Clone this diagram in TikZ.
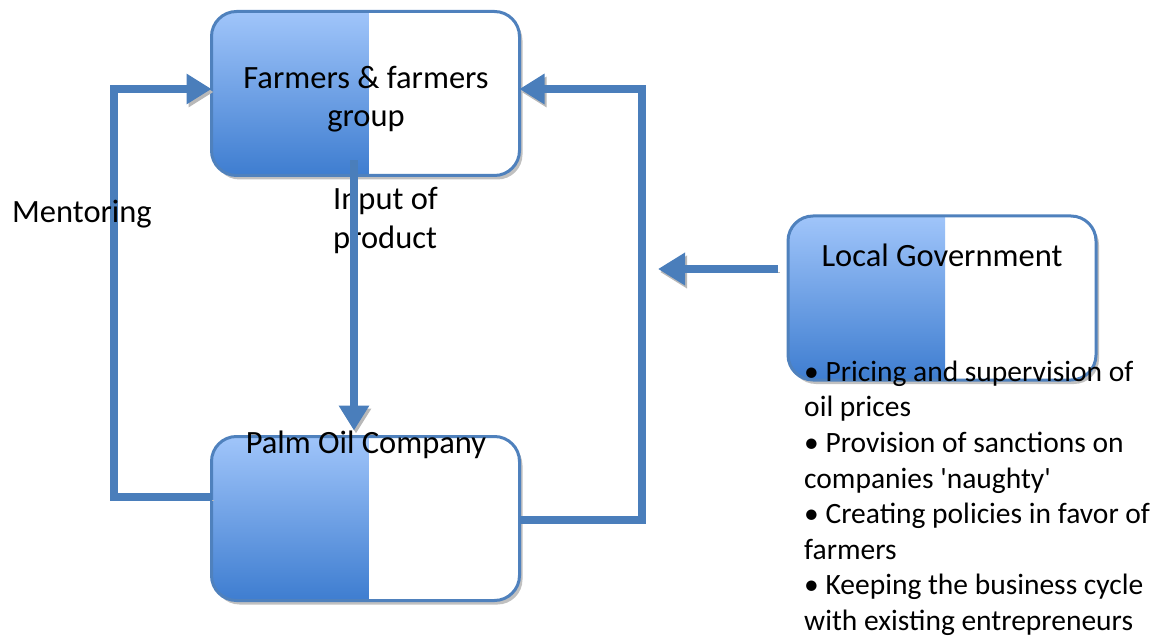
\documentclass[tikz,border=0pt]{standalone}
\usepackage{fontspec}
\setmainfont{Carlito}
\usetikzlibrary{arrows.meta,shadows,calc}
\definecolor{edgeblue}{RGB}{79,129,189}
\definecolor{lineblue}{RGB}{74,126,187}
\definecolor{shadetop}{RGB}{160,197,250}
\definecolor{shadebot}{RGB}{62,125,208}
\begin{document}
\begin{tikzpicture}[x=1pt,y=-1pt,
  halfbox/.style={draw=edgeblue, line width=3pt, rounded corners=25pt, fill=white,
    minimum width=308pt, minimum height=164pt, outer sep=0pt, inner sep=0pt,
    drop shadow={shadow xshift=3pt, shadow yshift=-4pt, fill=black!45, opacity=0.55},
    path picture={\shade[sharp corners, top color=shadetop, bottom color=shadebot]
      (path picture bounding box.north west) rectangle
      ($(path picture bounding box.south west)!0.51!(path picture bounding box.south east)$);}},
  link/.style={draw=lineblue, line width=7.5pt,
    preaction={draw=black!28, transform canvas={xshift=2pt,yshift=-3pt}}},
  flow/.style={link, -{Triangle[length=25pt,width=29pt]}},
  txt/.style={font=\fontsize{32.5pt}{39pt}\selectfont, inner sep=0pt},
  listtxt/.style={font=\fontsize{29.5pt}{35.6pt}\selectfont, inner sep=0pt}
]
\useasboundingbox (0,0) rectangle (1159,639);

% the three actors
\node[halfbox] (farm) at (365.5,93.5) {};
\node[halfbox] (pom)  at (365.5,518.5) {};
\node[halfbox] (gov)  at (942,298) {};

% labels (multi-line labels are placed by the baseline of their last line)
\node[txt, align=center, anchor=base, font=\fontsize{32.5pt}{38pt}\selectfont] (farmtxt) at (366,126.5) {Farmers \& farmers\\group};
\node[txt, align=left, anchor=base west] (inp) at (333,248.5) {Input of\\product};
\node[txt, anchor=base] (pomtxt) at (366,453.5) {Palm Oil Company};
\node[txt, anchor=base] (govtxt) at (942,266.5) {Local Government};
\node[listtxt, align=left, anchor=base west] (duties) at (804,630.5)
  {• Pricing and supervision of\\oil prices\\• Provision of sanctions on\\companies \textquotesingle naughty\textquotesingle\\• Creating policies in favor of\\farmers\\• Keeping the business cycle\\with existing entrepreneurs};

% mentoring loop on the left
\draw[flow] ([yshift=21.5pt]pom.west) -| ([xshift=-97.5pt,yshift=4.5pt]farm.west) -- ([yshift=4.5pt]farm.west);
% feedback loop on the right
\draw[flow] ([yshift=-1.5pt]pom.east) -| ([xshift=122.5pt,yshift=4.5pt]farm.east) -- ([yshift=4.5pt]farm.east);
% input of product
\draw[flow] ([xshift=-11.5pt,yshift=15pt]farm.south) -- ([xshift=-11.5pt,yshift=6pt]pom.north);
% government influence
\coordinate (govtip) at (658,269);
\draw[link, -{Triangle[length=27pt,width=31pt]}] ([xshift=-10pt,yshift=29pt]gov.west) -- (govtip);

% the loop label sits on top of its line
\node[txt, anchor=base west] (ment) at (12,222.5) {Mentoring};
\end{tikzpicture}
\end{document}
